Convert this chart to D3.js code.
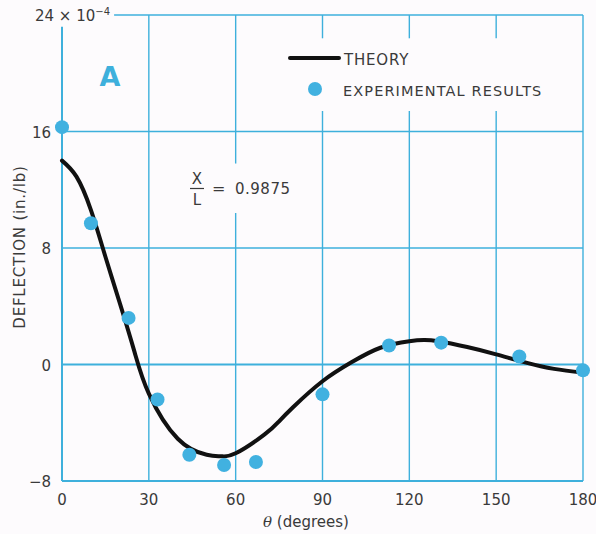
<!DOCTYPE html>
<html>
<head>
<meta charset="utf-8">
<title>Deflection vs theta</title>
<script src="https://d3js.org/d3.v7.min.js"></script>
<style>
  body { margin: 0; background: #fdfbfd; }
  text { font-family: "DejaVu Sans", sans-serif; fill: #3a3a3a; }
</style>
</head>
<body>
<div id="chart"></div>
<script>
// theory curve (theta in degrees, deflection in 1e-4 in./lb)
const theoryTheta = [0, 5, 10, 15, 20, 25, 30, 40, 50, 55, 60, 70, 75, 80, 90, 100, 110, 120, 125, 130, 140, 150, 160, 170, 180];
const theoryDefl  = [14.0, 12.9, 10.6, 7.4, 4.2, 0.9, -2.0, -5.1, -6.2, -6.3, -6.1, -4.8, -3.9, -2.9, -1.15, 0.15, 1.15, 1.6, 1.68, 1.6, 1.2, 0.7, 0.15, -0.3, -0.55];

// experimental results
const expTheta = [0, 10, 23, 33, 44, 56, 67, 90, 113, 131, 158, 180];
const expDefl  = [16.3, 9.7, 3.2, -2.4, -6.2, -6.9, -6.7, -2.05, 1.3, 1.5, 0.55, -0.4];

const xTicks = [0, 30, 60, 90, 120, 150, 180];
const yTicks = [-8, 0, 8, 16, 24];

const width = 596, height = 534;
const blue = "#3eb0dc";

const svg = d3.select("#chart").append("svg")
    .attr("width", width)
    .attr("height", height);

const x = d3.scaleLinear().domain([0, 180]).range([62, 583]);
const y = d3.scaleLinear().domain([-8, 24]).range([481, 15]);

// vertical grid, some lines broken where labels sit
function vSegments(t) {
  if (t === 0) return [[-8, 23.2]];
  if (t === 60) return [[-8, 10.4], [13.8, 24]];
  if (t === 90 || t === 120 || t === 150) return [[-8, 17.4], [22.4, 24]];
  return [[-8, 24]];
}
const vLines = [];
xTicks.forEach(t => vSegments(t).forEach(s => vLines.push({t: t, y0: s[0], y1: s[1]})));

svg.append("g").selectAll("line")
  .data(vLines)
  .join("line")
    .attr("x1", d => x(d.t)).attr("x2", d => x(d.t))
    .attr("y1", d => y(d.y0)).attr("y2", d => y(d.y1))
    .attr("stroke", blue)
    .attr("stroke-width", d => d.t === 0 ? 2 : 1.4);

svg.append("g").selectAll("line")
  .data(yTicks)
  .join("line")
    .attr("x1", d => d === 24 ? x(18) : x(0)).attr("x2", x(180))
    .attr("y1", d => y(d)).attr("y2", d => y(d))
    .attr("stroke", blue)
    .attr("stroke-width", d => (d === 0 || d === -8) ? 2 : 1.4);

// tick labels
svg.append("g").selectAll("text")
  .data(xTicks)
  .join("text")
    .attr("x", d => x(d))
    .attr("y", 505)
    .attr("text-anchor", "middle")
    .attr("font-size", 15)
    .text(d => d);

svg.append("g").selectAll("text")
  .data(yTicks.filter(d => d !== 24))
  .join("text")
    .attr("x", 51)
    .attr("y", d => y(d) + 6)
    .attr("text-anchor", "end")
    .attr("font-size", 15)
    .text(d => d < 0 ? "\u2212" + Math.abs(d) : d);

const topLabel = svg.append("text")
  .attr("x", 35).attr("y", 21)
  .attr("font-size", 15);
topLabel.append("tspan").text("24 \u00d7 10");
topLabel.append("tspan").attr("dy", -6).attr("font-size", 10).text("\u22124");

// axis titles
const xt = svg.append("text")
  .attr("x", 306).attr("y", 527)
  .attr("text-anchor", "middle")
  .attr("font-size", 15);
xt.append("tspan").attr("font-style", "italic").attr("font-family", "DejaVu Serif").text("\u03b8");
xt.append("tspan").text("  (degrees)");

svg.append("text")
  .attr("transform", "translate(25,247) rotate(-90)")
  .attr("text-anchor", "middle")
  .attr("font-size", 15)
  .attr("letter-spacing", 0.8)
  .text("DEFLECTION  (in./lb)");

// panel letter
svg.append("text")
  .attr("x", 110).attr("y", 86)
  .attr("text-anchor", "middle")
  .attr("font-size", 27)
  .attr("font-weight", "bold")
  .style("fill", blue)
  .text("A");

// X/L annotation
svg.append("text").attr("x", 197).attr("y", 184).attr("text-anchor", "middle").attr("font-size", 15).text("X");
svg.append("line").attr("x1", 190).attr("x2", 204).attr("y1", 188.5).attr("y2", 188.5).attr("stroke", "#3a3a3a").attr("stroke-width", 1.2);
svg.append("text").attr("x", 197).attr("y", 205).attr("text-anchor", "middle").attr("font-size", 15).text("L");
svg.append("text").attr("x", 212).attr("y", 194).attr("font-size", 16).text("=");
svg.append("text").attr("x", 235).attr("y", 194).attr("font-size", 15).attr("letter-spacing", 0.5).text("0.9875");

// theory curve
const line = d3.line()
  .x((d, i) => x(theoryTheta[i]))
  .y(d => y(d))
  .curve(d3.curveNatural);

svg.append("path")
  .datum(theoryDefl)
  .attr("fill", "none")
  .attr("stroke", "#111")
  .attr("stroke-width", 4)
  .attr("stroke-linecap", "round")
  .attr("d", line);

// experimental points
svg.append("g").selectAll("circle")
  .data(expDefl)
  .join("circle")
    .attr("cx", (d, i) => x(expTheta[i]))
    .attr("cy", d => y(d))
    .attr("r", 7)
    .attr("fill", "#41b1e0");

// legend
svg.append("line")
  .attr("x1", 290).attr("x2", 339).attr("y1", 58).attr("y2", 58)
  .attr("stroke", "#111").attr("stroke-width", 4).attr("stroke-linecap", "round");
svg.append("text").attr("x", 344).attr("y", 65).attr("font-size", 15).attr("letter-spacing", 0.8).text("THEORY");
svg.append("circle").attr("cx", 315).attr("cy", 89).attr("r", 7).attr("fill", "#41b1e0");
svg.append("text").attr("x", 343).attr("y", 96).attr("font-size", 14.5).attr("letter-spacing", 1.1).text("EXPERIMENTAL  RESULTS");
</script>
</body>
</html>
